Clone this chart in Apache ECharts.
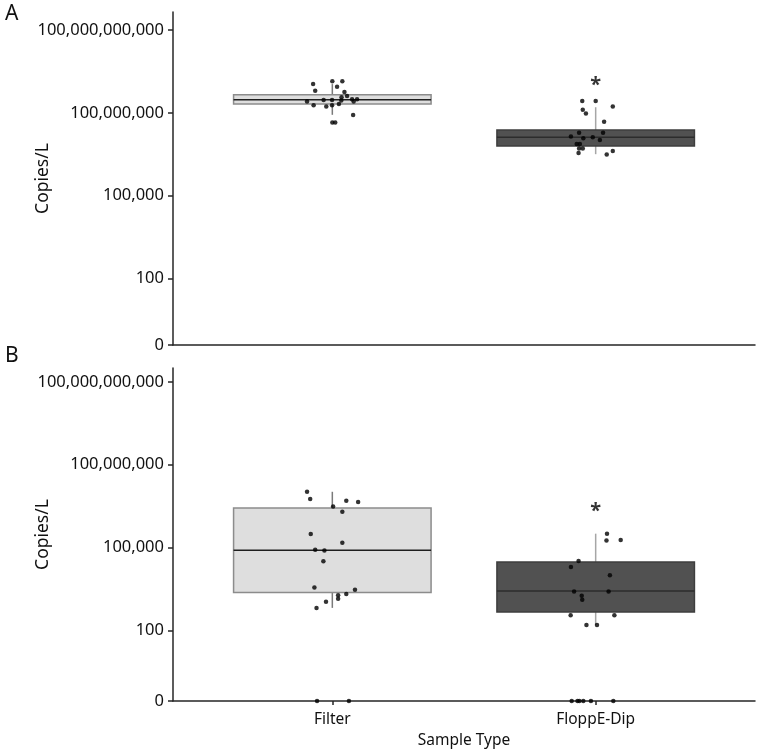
<!DOCTYPE html>
<html>
<head>
<meta charset="utf-8">
<script src="https://cdn.jsdelivr.net/npm/echarts@6.0.0/dist/echarts.min.js"></script>
<style>
  html, body { margin: 0; padding: 0; background: #fff; }
  #main { width: 757px; height: 754px; }
</style>
</head>
<body>
<div id="main"></div>
<script>
'use strict';

var categories = ['Filter', 'FloppE-Dip'];
var tickValues = [0, 100, 1e5, 1e8, 1e11];

// box stats per category: [low whisker, Q1, median, Q3, high whisker] (copies/L)
var boxA = [
  [8.5e7, 2.1e8, 3.0e8, 4.5e8, 1.1e9],
  [3.2e6, 6.3e6, 1.3e7, 2.4e7, 1.6e8]
];
var boxB = [
  [6.6e2, 2.4e3, 8.1e4, 2.7e6, 1.05e7],
  [1.6e2, 4.7e2, 2.7e3, 3.0e4, 3.2e5]
];

// individual samples (copies/L) and their horizontal jitter
var filterA = [1.1e9, 6.3e8, 1.4e9, 1.4e9, 8.9e8, 5.7e8, 4.1e8, 3.7e8, 2.6e8, 2.9e8, 2.9e8,
  2.8e8, 3.1e8, 3.1e8, 2.6e8, 1.9e8, 1.7e8, 1.9e8, 2.1e8, 8.3e7, 4.5e7, 4.5e7];
var filterAJitter = [-0.073, -0.065, 0, 0.038, 0.018, 0.046, 0.056, 0.035, -0.096, -0.033, -0.001,
  0.034, 0.075, 0.094, 0.081, -0.071, -0.023, -0.001, 0.025, 0.079, 0, 0.011];
var floppeA = [2.7e8, 2.7e8, 1.7e8, 1.3e8, 9.4e7, 4.8e7, 1.9e7, 1.9e7, 1.4e7, 1.3e7, 1.2e7,
  1.05e7, 7.5e6, 7.5e6, 5.1e6, 5.1e6, 3.5e6, 4.2e6, 3.1e6];
var floppeAJitter = [-0.051, 0, 0.065, -0.049, -0.037, 0.032, -0.063, 0.028, -0.094, -0.011, -0.047,
  0.016, -0.072, -0.060, -0.063, -0.049, -0.065, 0.065, 0.042];
var filterB = [1.05e7, 5.7e6, 3.1e6, 5.0e6, 4.5e6, 2.0e6, 3.1e5, 1.5e5, 8.3e4, 7.8e4, 3.2e4,
  3.6e3, 3.0e3, 2.1e3, 1.9e3, 1.4e3, 1.1e3, 6.5e2, 0, 0];
var filterBJitter = [-0.096, -0.084, 0.003, 0.053, 0.098, 0.038, -0.082, 0.038, -0.065, -0.030, -0.034,
  -0.068, 0.086, 0.053, 0.022, 0.022, -0.024, -0.060, -0.058, 0.063];
var floppeB = [3.2e5, 1.8e5, 1.9e5, 3.3e4, 2.0e4, 1.0e4, 2.6e3, 2.6e3, 1.8e3, 1.3e3, 3.6e2,
  3.6e2, 1.6e2, 1.6e2, 0, 0, 0, 0, 0, 0];
var floppeBJitter = [0.043, 0.041, 0.095, -0.065, -0.094, 0.054, -0.082, 0.049, -0.053, -0.051, -0.095,
  0.071, -0.035, 0.005, -0.091, -0.069, -0.062, -0.047, -0.018, 0.067];

// significance marks (category index per panel)
var starA = [2];
var starB = [2];

// axis floors: where 0 copies/L sits on each log axis
var floorA = -0.4, ceilA = 11.65;
var floorB = -0.55, ceilB = 11.5;

var FONT = '"Noto Sans", "Open Sans", sans-serif';
var TXT = '#111';
var BOX_HALF = 0.375;

var boxStyles = [
  { fill: '#dedede', border: '#8c8c8c', median: '#1e1e1e', whisker: '#7a7a7a' },
  { fill: '#515151', border: '#3e3e3e', median: '#2c2c2c', whisker: '#a6a6a6' }
];

function toLog(v, floor) {
  return v > 0 ? Math.log10(v) : floor;
}

function boxData(stats, floor) {
  return stats.map(function (s, i) {
    return [i + 1].concat(s.map(function (v) { return toLog(v, floor); }));
  });
}

function pointData(values, jitter, cat, floor) {
  return values.map(function (v, i) {
    return [cat + jitter[i], toLog(v, floor)];
  });
}

function starData(cats, stats, floor) {
  return cats.map(function (c) {
    return [c, toLog(stats[c - 1][4], floor)];
  });
}

function renderBox(params, api) {
  var x = api.value(0);
  var pLo = api.coord([x, api.value(1)]);
  var pQ1 = api.coord([x, api.value(2)]);
  var pMed = api.coord([x, api.value(3)]);
  var pQ3 = api.coord([x, api.value(4)]);
  var pHi = api.coord([x, api.value(5)]);
  var half = api.size([BOX_HALF, 0])[0];
  var st = boxStyles[params.dataIndex];
  return {
    type: 'group',
    children: [
      {
        type: 'line',
        shape: { x1: pMed[0], y1: pHi[1], x2: pMed[0], y2: pLo[1] },
        style: { stroke: st.whisker, lineWidth: 1.5 }
      },
      {
        type: 'rect',
        shape: { x: pMed[0] - half, y: pQ3[1], width: half * 2, height: pQ1[1] - pQ3[1] },
        style: { fill: st.fill, stroke: st.border, lineWidth: 1.5 }
      },
      {
        type: 'line',
        shape: { x1: pMed[0] - half, y1: pMed[1], x2: pMed[0] + half, y2: pMed[1] },
        style: { stroke: st.median, lineWidth: 1.5 }
      }
    ]
  };
}

function yAxis(gridIndex, floor, ceil) {
  var ticks = tickValues.map(function (v) { return toLog(v, floor); });
  return {
    type: 'value',
    gridIndex: gridIndex,
    min: floor,
    max: ceil,
    name: 'Copies/L',
    nameLocation: 'middle',
    nameGap: 121,
    nameMoveOverlap: false,
    nameTextStyle: { color: TXT, fontSize: 17.5, fontFamily: FONT },
    splitLine: { show: false },
    axisLine: { show: true, lineStyle: { color: '#262626', width: 1.5 } },
    axisTick: {
      show: true,
      length: 5,
      customValues: ticks,
      lineStyle: { color: '#262626', width: 1.5 }
    },
    axisLabel: {
      margin: 9,
      color: TXT,
      fontSize: 16.5,
      fontFamily: FONT,
      customValues: ticks,
      formatter: function (val) {
        for (var i = 0; i < ticks.length; i++) {
          if (Math.abs(ticks[i] - val) < 1e-6) {
            return tickValues[i].toLocaleString('en-US');
          }
        }
        return '';
      }
    }
  };
}

function xAxis(gridIndex, labelled) {
  return {
    type: 'value',
    gridIndex: gridIndex,
    min: 0.395,
    max: 2.605,
    name: labelled ? 'Sample Type' : '',
    nameLocation: 'middle',
    nameGap: 32,
    nameTextStyle: { color: TXT, fontSize: 15.5, fontFamily: FONT },
    splitLine: { show: false },
    axisLine: { show: true, onZero: false, lineStyle: { color: '#262626', width: 1.5 } },
    axisTick: {
      show: labelled,
      length: 4,
      customValues: [1, 2],
      lineStyle: { color: '#262626', width: 1.5 }
    },
    axisLabel: {
      show: labelled,
      margin: 11,
      color: TXT,
      fontSize: 15.5,
      fontFamily: FONT,
      customValues: [1, 2],
      formatter: function (val) {
        return categories[Math.round(val) - 1] || '';
      }
    }
  };
}

function pointSeries(data, axisIndex) {
  return {
    type: 'scatter',
    xAxisIndex: axisIndex,
    yAxisIndex: axisIndex,
    symbolSize: 4.5,
    clip: false,
    z: 5,
    itemStyle: { color: '#000' },
    data: data
  };
}

function starSeries(data, axisIndex) {
  return {
    type: 'scatter',
    xAxisIndex: axisIndex,
    yAxisIndex: axisIndex,
    symbolSize: 0,
    z: 6,
    label: {
      show: true,
      position: 'inside',
      offset: [0, -22],
      formatter: '*',
      color: '#000',
      fontSize: 20,
      fontWeight: 'bold',
      fontFamily: FONT
    },
    data: data
  };
}

var chart = echarts.init(document.getElementById('main'));
chart.setOption({
  animation: false,
  backgroundColor: '#fff',
  grid: [
    { left: 173, right: 2, top: 12, height: 333 },
    { left: 173, right: 2, top: 368, height: 333 }
  ],
  xAxis: [xAxis(0, false), xAxis(1, true)],
  yAxis: [yAxis(0, floorA, ceilA), yAxis(1, floorB, ceilB)],
  graphic: [
    { type: 'text', left: 5, top: 4, style: { text: 'A', fontSize: 21, fontFamily: FONT, fill: TXT } },
    { type: 'text', left: 5, top: 346, style: { text: 'B', fontSize: 21, fontFamily: FONT, fill: TXT } }
  ],
  series: [
    { type: 'custom', xAxisIndex: 0, yAxisIndex: 0, renderItem: renderBox, data: boxData(boxA, floorA), z: 2 },
    { type: 'custom', xAxisIndex: 1, yAxisIndex: 1, renderItem: renderBox, data: boxData(boxB, floorB), z: 2 },
    pointSeries(pointData(filterA, filterAJitter, 1, floorA), 0),
    pointSeries(pointData(floppeA, floppeAJitter, 2, floorA), 0),
    pointSeries(pointData(filterB, filterBJitter, 1, floorB), 1),
    pointSeries(pointData(floppeB, floppeBJitter, 2, floorB), 1),
    starSeries(starData(starA, boxA, floorA), 0),
    starSeries(starData(starB, boxB, floorB), 1)
  ]
});
</script>
</body>
</html>
